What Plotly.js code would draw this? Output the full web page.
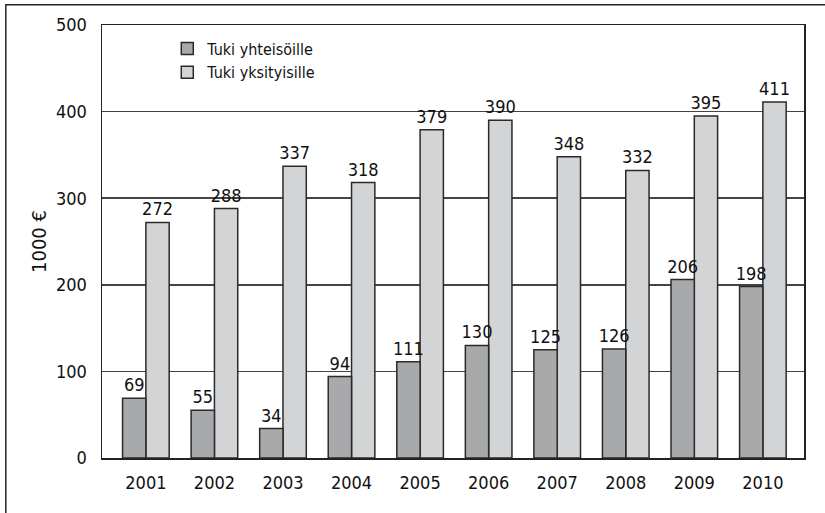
<!DOCTYPE html>
<html><head><meta charset="utf-8">
<script src="https://cdn.plot.ly/plotly-3.0.1.min.js"></script>
<style>body{margin:0;background:#fff}#c{width:825px;height:513px}</style>
</head><body><div id="c"></div>
<script>
const years = ['2001','2002','2003','2004','2005','2006','2007','2008','2009','2010'];
const yhteisoille = [69,55,34,94,111,130,125,126,206,198];
const yksityisille = [272,288,337,318,379,390,348,332,395,411];
const seriesNames = ['Tuki yhteisöille','Tuki yksityisille'];
const yTicks = [0,100,200,300,400,500];

const FONT = '"Liberation Sans Narrow", "DejaVu Sans Condensed", Arial, sans-serif';
const mk = (y, name, color, offset, rank) => ({
  type:'bar', x: years, y: y, name: name, width:0.34, offset: offset, legendrank: rank,
  marker:{color: color, line:{color:'#2a2a2a', width:1.5}},
  text: y.map(String), textposition:'outside', cliponaxis:false, constraintext:'none',
  textfont:{family:FONT, size:18, color:'#111'}
});
// light series drawn first so the dark series' labels stay on top
const data = [
  mk(yksityisille, seriesNames[1], '#d3d4d6', 0, 2),
  mk(yhteisoille, seriesNames[0], '#a8a9ab', -0.34, 1)
];
const layout = {
  width:825, height:513,
  margin:{l:102, r:21, t:25, b:55},
  paper_bgcolor:'#fff', plot_bgcolor:'#fff',
  font:{family:FONT, size:18, color:'#111'},
  barmode:'overlay',
  showlegend:true,
  legend:{x:0.093, y:0.985, xanchor:'left', yanchor:'top', bgcolor:'rgba(0,0,0,0)', traceorder:'normal',
          font:{family:FONT, size:16, color:'#111'}, tracegroupgap:0, itemwidth:30},
  xaxis:{type:'category', range:[-0.64, 9.6], showgrid:false, showline:true, linecolor:'#222',
         linewidth:1.5, mirror:true, ticks:'', ticklabelstandoff:8, tickfont:{size:18}},
  yaxis:{range:[0,500], tickvals:yTicks, showgrid:true, gridcolor:'#444', gridwidth:1.5,
         showline:true, linecolor:'#222', linewidth:1.5, mirror:true, ticks:'', zeroline:false,
         ticklabelstandoff:10, tickfont:{size:18},
         title:{text:'1000 €', font:{size:20}, standoff:4}},
  shapes:[{type:'rect', xref:'paper', yref:'paper', x0:-0.137, x1:1.1, y0:-0.2, y1:1.047,
           line:{color:'#222', width:1.5}, fillcolor:'rgba(0,0,0,0)'}]
};
Plotly.newPlot('c', data, layout, {displayModeBar:false, staticPlot:true});
</script></body></html>
